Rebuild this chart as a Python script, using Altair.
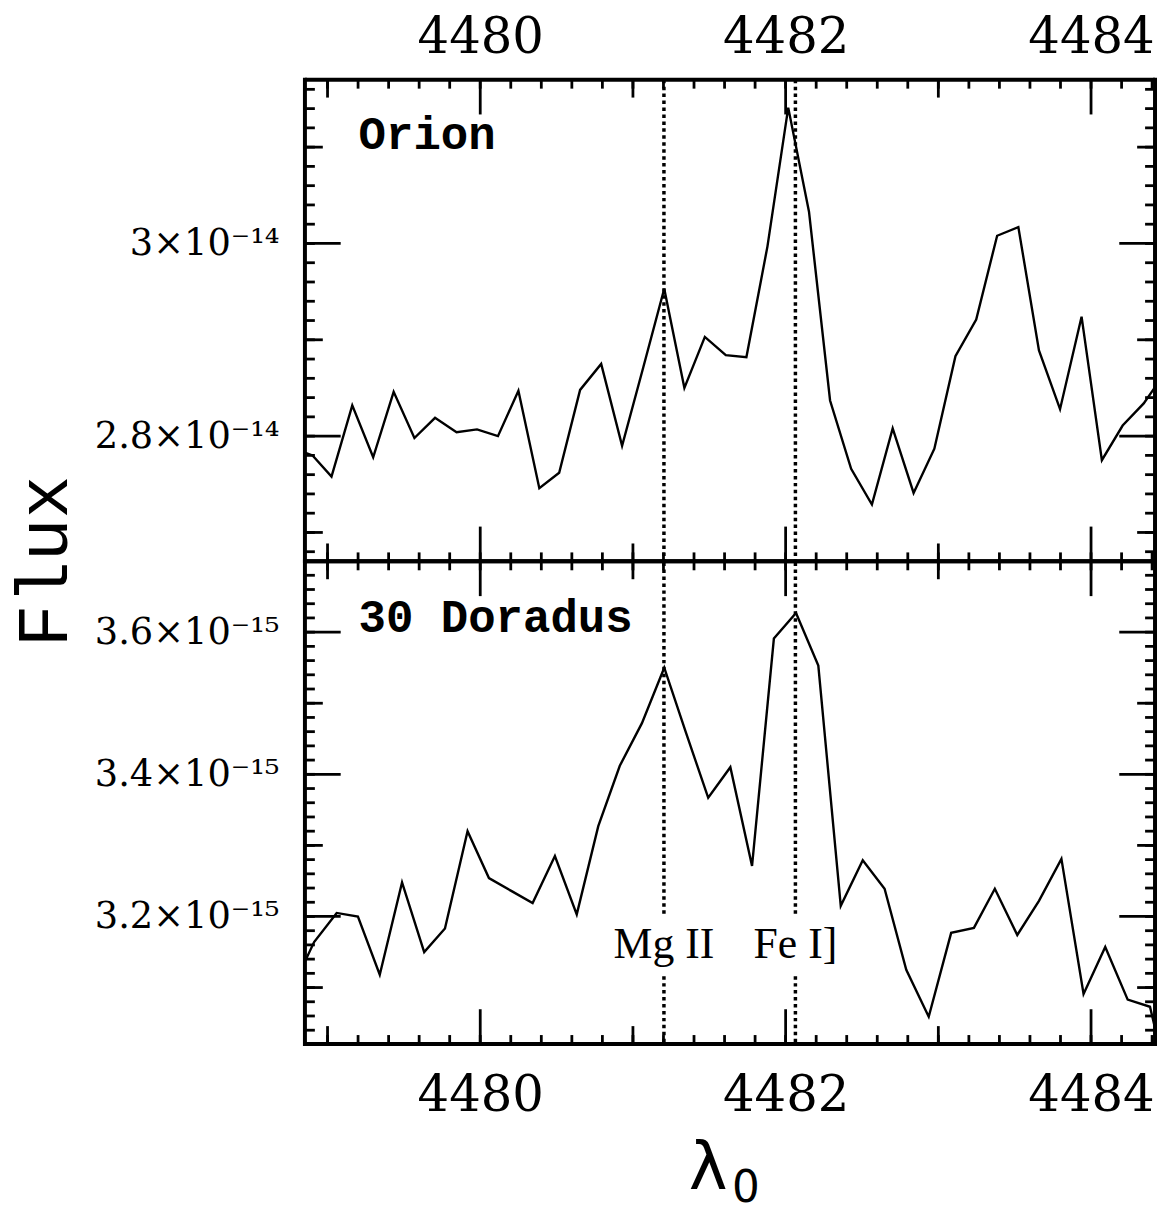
import altair as alt
import pandas as pd

# ---------------- data ----------------
# Orion spectrum: wavelength (Angstrom) and flux (units of 1e-14)
orion_wl = [4478.766, 4478.902, 4479.026, 4479.162, 4479.299, 4479.433, 4479.569,
            4479.704, 4479.845, 4479.979, 4480.116, 4480.250, 4480.387, 4480.517,
            4480.654, 4480.792, 4480.929, 4481.067, 4481.205, 4481.337, 4481.471,
            4481.608, 4481.743, 4481.881, 4482.017, 4482.153, 4482.291, 4482.429,
            4482.565, 4482.701, 4482.838, 4482.974, 4483.112, 4483.248, 4483.385,
            4483.524, 4483.659, 4483.797, 4483.938, 4484.071, 4484.207, 4484.345,
            4484.481]
orion_flux = [2.788, 2.780, 2.758, 2.832, 2.778, 2.846, 2.798, 2.819, 2.804, 2.807,
              2.800, 2.847, 2.746, 2.762, 2.848, 2.875, 2.790, 2.871, 2.953, 2.850,
              2.903, 2.884, 2.882, 2.997, 3.141, 3.033, 2.837, 2.766, 2.729, 2.808,
              2.741, 2.787, 2.883, 2.921, 3.008, 3.017, 2.889, 2.828, 2.924, 2.775,
              2.811, 2.834, 2.865]

# 30 Doradus spectrum: wavelength (Angstrom) and flux (units of 1e-15)
dor_wl = [4478.769, 4478.912, 4479.060, 4479.199, 4479.342, 4479.488, 4479.633,
          4479.769, 4479.917, 4480.057, 4480.203, 4480.343, 4480.489, 4480.632,
          4480.773, 4480.914, 4481.059, 4481.205, 4481.345, 4481.493, 4481.638,
          4481.780, 4481.923, 4482.068, 4482.214, 4482.361, 4482.505, 4482.648,
          4482.790, 4482.937, 4483.084, 4483.233, 4483.370, 4483.517, 4483.659,
          4483.806, 4483.951, 4484.093, 4484.240, 4484.386, 4484.530]
dor_flux = [3.099, 3.164, 3.205, 3.200, 3.118, 3.248, 3.150, 3.183, 3.320, 3.254,
            3.236, 3.219, 3.285, 3.203, 3.327, 3.412, 3.472, 3.550, 3.460, 3.367,
            3.410, 3.271, 3.591, 3.627, 3.553, 3.215, 3.279, 3.239, 3.125, 3.059,
            3.177, 3.184, 3.239, 3.174, 3.222, 3.281, 3.091, 3.157, 3.083, 3.073,
            2.942]

# identified lines
line_wl = [4481.203, 4482.064]
line_names = ["Mg II", "Fe I]"]
line_label_flux = 3.142          # label baseline (1e-15 units, lower panel)
line_gap_top = 3.204             # dotted line interrupted between these
line_gap_bottom = 3.116

panel_names = ["Orion", "30 Doradus"]

# axes
x_domain = [4478.852, 4484.419]
x_label_values = [4480, 4482, 4484]
x_mid_ticks = [4479, 4481, 4483]
x_minor_ticks = [round(4479.0 + 0.2 * i, 1) for i in range(28)]

top_domain = [2.670, 3.170]
top_label_values = [2.8, 3.0]
top_labels = ["2.8×10⁻¹⁴", "3×10⁻¹⁴"]
top_mid_ticks = [2.7, 2.9, 3.1]
top_minor_ticks = [round(2.68 + 0.02 * i, 2) for i in range(25)]

bot_domain = [3.0206, 3.6996]
bot_label_values = [3.2, 3.4, 3.6]
bot_labels = ["3.2×10⁻¹⁵", "3.4×10⁻¹⁵", "3.6×10⁻¹⁵"]
bot_mid_ticks = [3.1, 3.3, 3.5]
bot_minor_ticks = [round(3.04 + 0.02 * i, 2) for i in range(33)]

# ---------------- layout ----------------
W, H1, H2 = 856, 485, 486
TICK_W = 2.8
FRAME_W = 4
MINOR, MID, MAJOR = 9, 18, 35
SERIF = "DejaVu Serif"


def label_expr(vals, labels):
    expr = "''"
    for v, l in reversed(list(zip(vals, labels))):
        expr = f"abs(datum.value - {v}) < 1e-6 ? '{l}' : ({expr})"
    return expr


xscale = alt.Scale(domain=x_domain, nice=False, zero=False)
one = pd.DataFrame({"k": [0]})


def panel(wl, flux, ydomain, yvals, ylabels, ymid, yminor, H, x_orient, name, name_y):
    yscale = alt.Scale(domain=ydomain, nice=False, zero=False)
    if x_orient == "top":
        xaxis = alt.Axis(orient="top", values=x_label_values, format="d", ticks=False,
                         domain=False, grid=False, labelFont=SERIF, labelFontSize=50,
                         labelColor="black", labelPadding=27, labelBaseline="alphabetic",
                         labelFlush=False, labelOverlap=False, labelLimit=0, title=None)
    else:
        xaxis = alt.Axis(orient="bottom", values=x_label_values, format="d", ticks=False,
                         domain=False, grid=False, labelFont=SERIF, labelFontSize=50,
                         labelColor="black", labelPadding=27,
                         labelFlush=False, labelOverlap=False, labelLimit=0, title=None)
    yaxis = alt.Axis(orient="left", values=yvals, labelExpr=label_expr(yvals, ylabels),
                     ticks=False, domain=False, grid=False, labelFont=SERIF,
                     labelFontSize=37, labelColor="black", labelPadding=26,
                     labelFlush=False, labelOverlap=False, labelLimit=0, title=None)
    X = alt.X("wl:Q", scale=xscale, axis=xaxis)
    Y = alt.Y("flux:Q", scale=yscale, axis=yaxis)

    df = pd.DataFrame({"wl": wl, "flux": flux})
    layers = [alt.Chart(df).mark_line(color="black", strokeWidth=2.4, clip=True)
              .encode(x=X, y=Y)]

    # x ticks (inside, top and bottom edges)
    for vals, L in [(x_minor_ticks, MINOR), (x_mid_ticks, MID), (x_label_values, MAJOR)]:
        tdf = pd.DataFrame({"wl": vals})
        for y0, y1 in [(0, L), (H, H - L)]:
            layers.append(alt.Chart(tdf).mark_rule(color="black", strokeWidth=TICK_W)
                          .encode(x=X, y=alt.value(y0), y2=alt.value(y1)))
    # y ticks (inside, left and right edges)
    for vals, L in [(yminor, MINOR + 1), (ymid, MID), (yvals, MAJOR + 1)]:
        tdf = pd.DataFrame({"flux": vals})
        for x0, x1 in [(0, L), (W, W - L)]:
            layers.append(alt.Chart(tdf).mark_rule(color="black", strokeWidth=TICK_W)
                          .encode(y=Y, x=alt.value(x0), x2=alt.value(x1)))
    # frame
    for enc in [dict(x=alt.value(0), x2=alt.value(W), y=alt.value(0)),
                dict(x=alt.value(0), x2=alt.value(W), y=alt.value(H)),
                dict(y=alt.value(-FRAME_W / 2), y2=alt.value(H + FRAME_W / 2), x=alt.value(0)),
                dict(y=alt.value(-FRAME_W / 2), y2=alt.value(H + FRAME_W / 2), x=alt.value(W))]:
        layers.append(alt.Chart(one).mark_rule(color="black", strokeWidth=FRAME_W)
                      .encode(**enc))

    ndf = pd.DataFrame({"t": [name]})
    layers.append(alt.Chart(ndf).mark_text(align="left", baseline="alphabetic",
                                           font="Liberation Mono", fontWeight="bold",
                                           fontSize=46, color="black")
                  .encode(x=alt.value(54), y=alt.value(name_y), text="t:N"))
    return layers, X, Y


# ---------- top panel (Orion) ----------
top_layers, Xt, Yt = panel(orion_wl, orion_flux, top_domain, top_label_values, top_labels,
                           top_mid_ticks, top_minor_ticks, H1, "top", panel_names[0], 70)
ldf = pd.DataFrame({"wl": line_wl})
top_layers.append(alt.Chart(ldf).mark_rule(color="black", strokeWidth=3.5,
                                           strokeDash=[3.5, 3.5])
                  .encode(x=Xt))
fdf = pd.DataFrame({"t": ["Flux"]})
top_layers.append(alt.Chart(fdf).mark_text(angle=270, align="center", baseline="middle",
                                           font="Liberation Mono", fontSize=72,
                                           color="black")
                  .encode(x=alt.value(-262), y=alt.value(H1), text="t:N"))
top = alt.layer(*top_layers).properties(width=W, height=H1)

# ---------- bottom panel (30 Doradus) ----------
bot_layers, Xb, Yb = panel(dor_wl, dor_flux, bot_domain, bot_label_values, bot_labels,
                           bot_mid_ticks, bot_minor_ticks, H2, "bottom", panel_names[1], 71)
up = pd.DataFrame({"wl": line_wl, "flux": [line_gap_top] * len(line_wl)})
lo = pd.DataFrame({"wl": line_wl, "flux": [line_gap_bottom] * len(line_wl)})
bot_layers.append(alt.Chart(up).mark_rule(color="black", strokeWidth=3.5, strokeDash=[3.5, 3.5])
                  .encode(x=Xb, y=Yb, y2=alt.value(0)))
bot_layers.append(alt.Chart(lo).mark_rule(color="black", strokeWidth=3.5, strokeDash=[3.5, 3.5])
                  .encode(x=Xb, y=Yb, y2=alt.value(H2)))
tdf = pd.DataFrame({"wl": line_wl, "flux": [line_label_flux] * len(line_wl), "t": line_names})
bot_layers.append(alt.Chart(tdf).mark_text(align="center", baseline="alphabetic",
                                           font="Liberation Serif", fontSize=44,
                                           color="black")
                  .encode(x=Xb, y=Yb, text="t:N"))
lam = pd.DataFrame({"t": ["λ"]})
bot_layers.append(alt.Chart(lam).mark_text(align="center", baseline="alphabetic",
                                           font="DejaVu Sans", fontSize=66, color="black")
                  .encode(x=alt.value(406), y=alt.value(632), text="t:N"))
sub = pd.DataFrame({"t": ["0"]})
bot_layers.append(alt.Chart(sub).mark_text(align="center", baseline="alphabetic",
                                           font="DejaVu Sans", fontSize=44, color="black")
                  .encode(x=alt.value(444), y=alt.value(645), text="t:N"))
bottom = alt.layer(*bot_layers).properties(width=W, height=H2)

chart = (alt.vconcat(top, bottom, spacing=0, bounds="flush")
         .properties(padding={"left": 0, "top": 0, "right": 0, "bottom": 0})
         .configure_view(stroke=None)
         .configure(background="white"))

chart.save("out.html", embed_options={"renderer": "svg", "actions": False})
